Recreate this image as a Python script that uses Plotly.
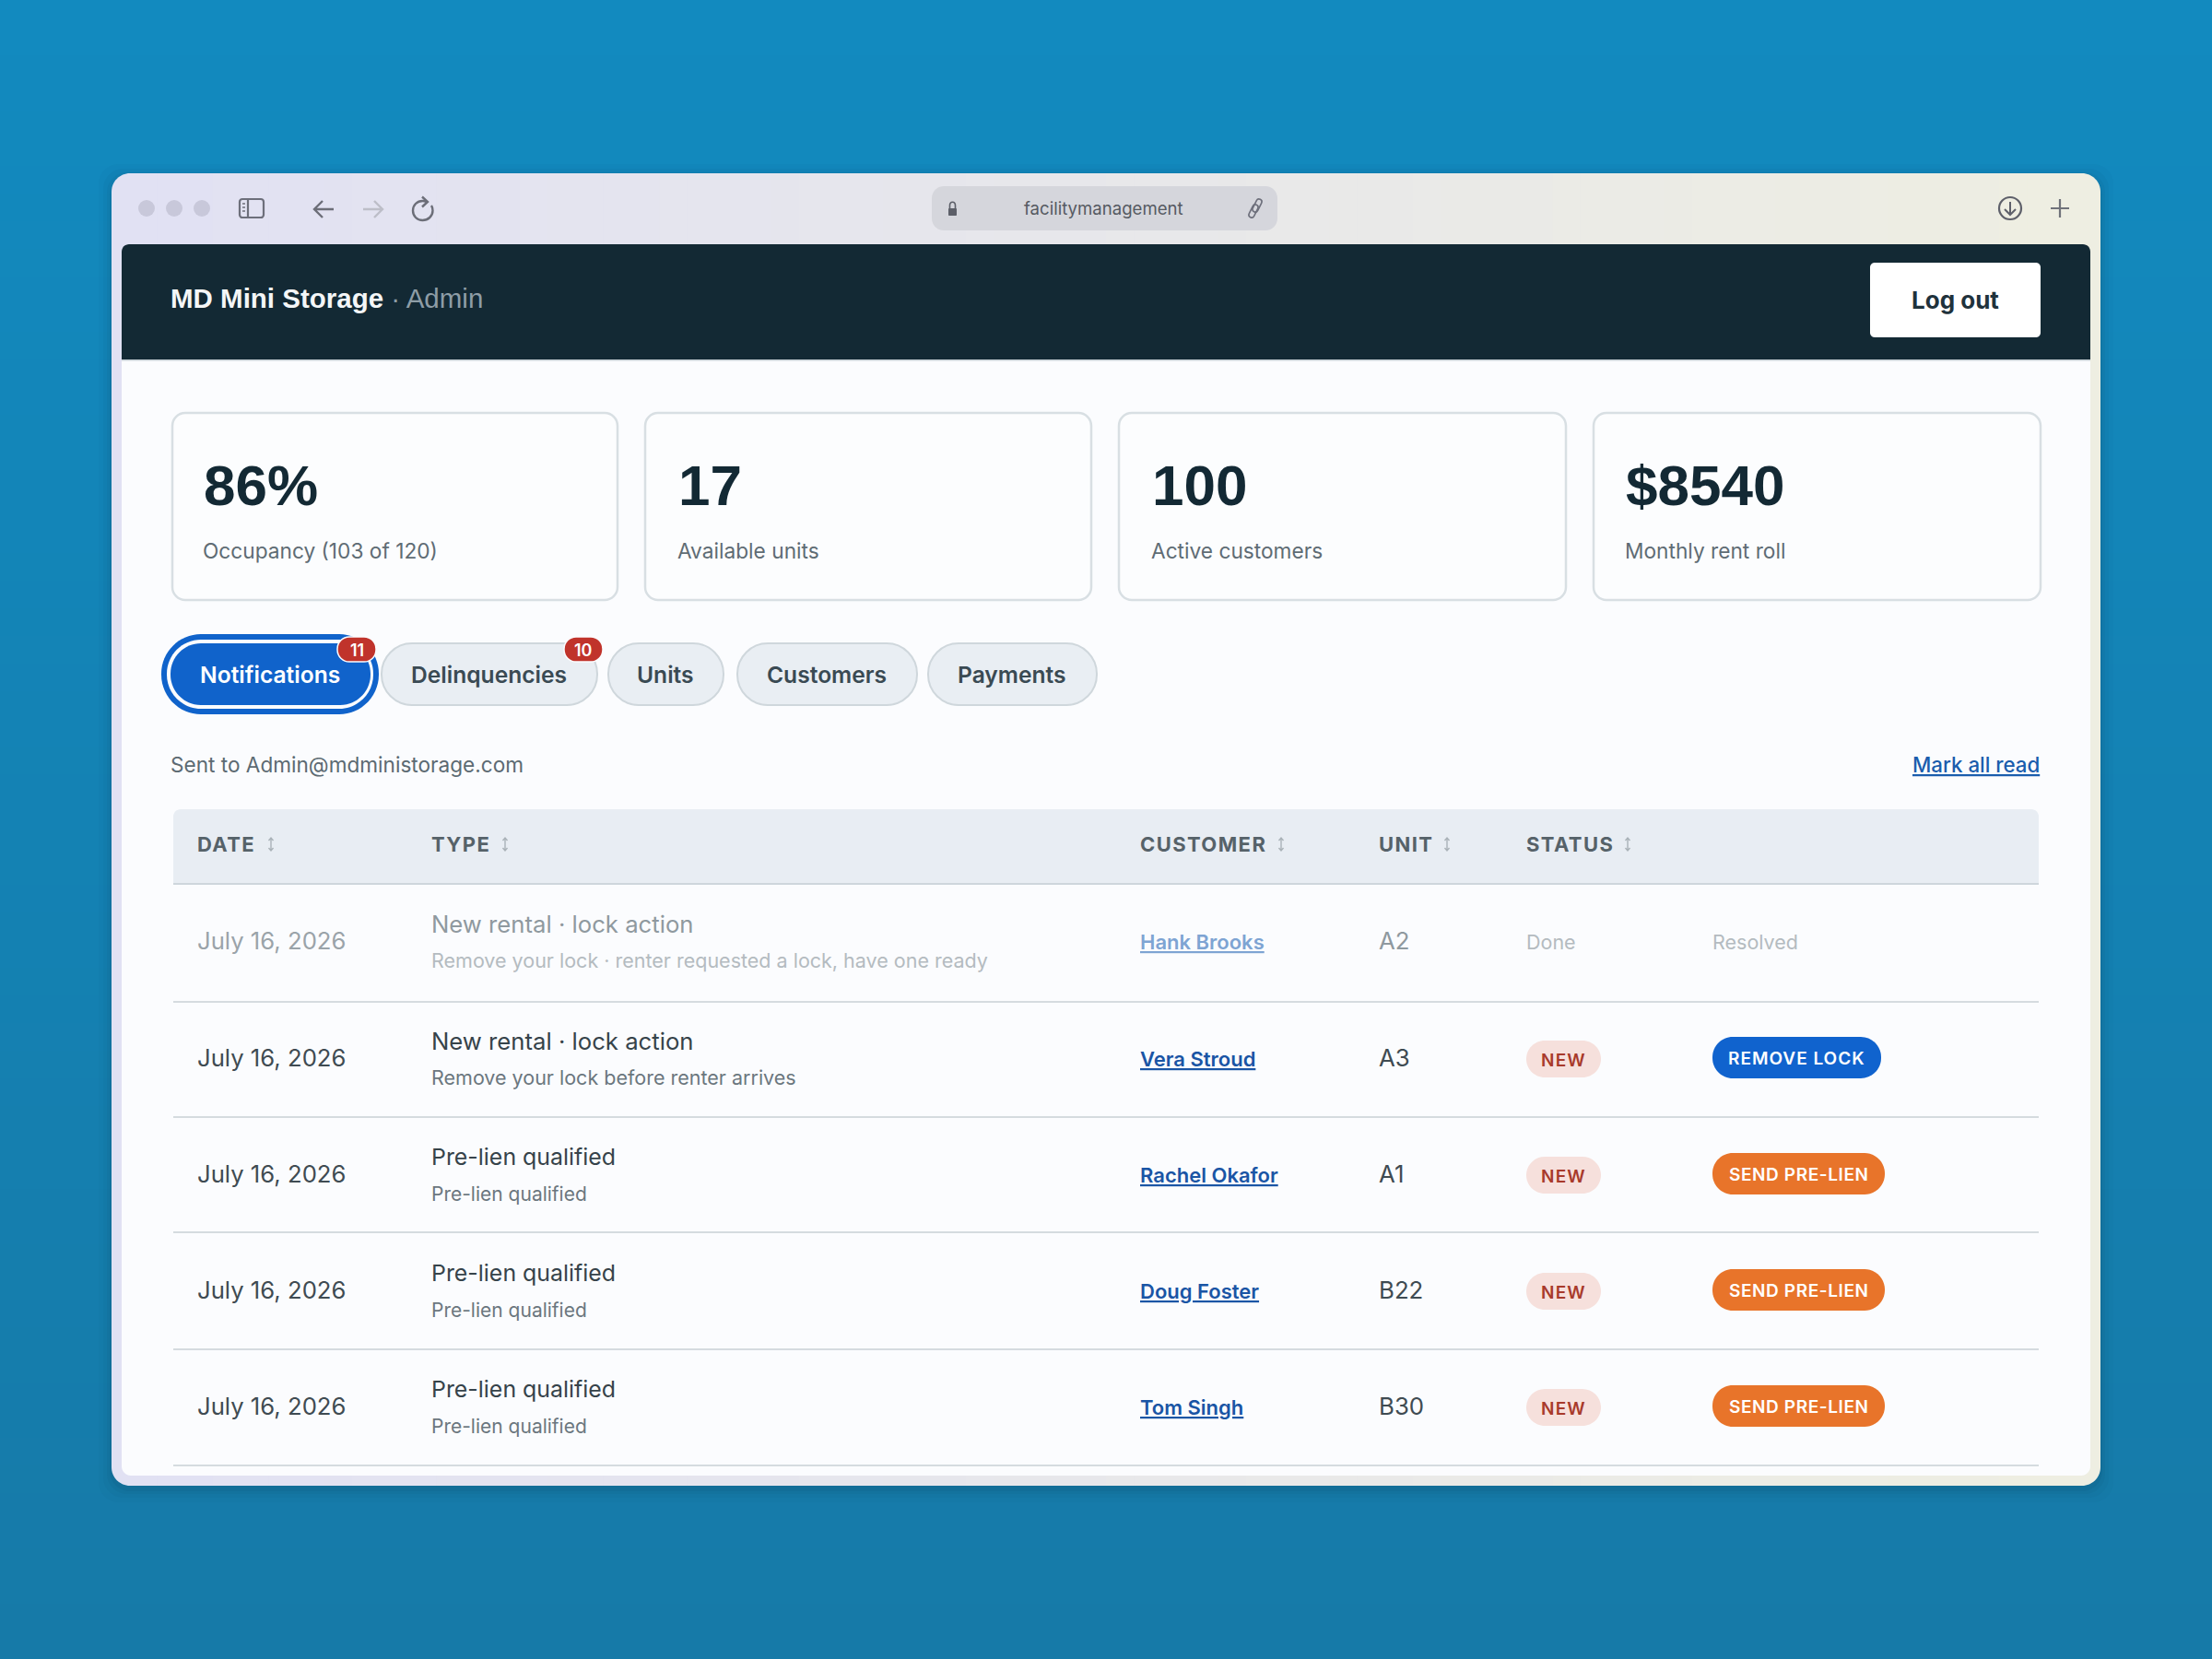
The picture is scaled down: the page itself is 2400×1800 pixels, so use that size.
import plotly.graph_objects as go

# ---- content ----
brand = "MD Mini Storage"
brand_role = " · Admin"
url_text = "facilitymanagement"
logout_label = "Log out"
kpi_values = ["86%", "17", "100", "$8540"]
kpi_labels = ["Occupancy (103 of 120)", "Available units", "Active customers", "Monthly rent roll"]
tab_labels = ["Notifications", "Delinquencies", "Units", "Customers", "Payments"]
tab_badges = ["11", "10", "", "", ""]
sent_to = "Sent to Admin@mdministorage.com"
mark_read = "Mark all read"
columns = ["DATE", "TYPE", "CUSTOMER", "UNIT", "STATUS"]
dates = ["July 16, 2026"] * 5
types = ["New rental · lock action", "New rental · lock action", "Pre-lien qualified", "Pre-lien qualified", "Pre-lien qualified"]
details = ["Remove your lock · renter requested a lock, have one ready", "Remove your lock before renter arrives",
           "Pre-lien qualified", "Pre-lien qualified", "Pre-lien qualified"]
customers = ["Hank Brooks", "Vera Stroud", "Rachel Okafor", "Doug Foster", "Tom Singh"]
units = ["A2", "A3", "A1", "B22", "B30"]
statuses = ["Done", "NEW", "NEW", "NEW", "NEW"]
actions = ["Resolved", "REMOVE LOCK", "SEND PRE-LIEN", "SEND PRE-LIEN", "SEND PRE-LIEN"]

# ---- geometry / style ----
BODY = "Inter"
HEAD = "Liberation Sans"
shapes, notes = [], []

def lerp(a, b, t):
    return "#%02x%02x%02x" % tuple(round(a[i] + (b[i] - a[i]) * t) for i in range(3))

def rpath(x0, y0, x1, y1, r):
    k = r * 0.45
    return (f"M{x0+r},{y0} L{x1-r},{y0} C{x1-k},{y0} {x1},{y0+k} {x1},{y0+r} L{x1},{y1-r} "
            f"C{x1},{y1-k} {x1-k},{y1} {x1-r},{y1} L{x0+r},{y1} C{x0+k},{y1} {x0},{y1-k} {x0},{y1-r} "
            f"L{x0},{y0+r} C{x0},{y0+k} {x0+k},{y0} {x0+r},{y0} Z")

def box(x0, y0, x1, y1, r=0, fill="#fff", line=None, lw=0):
    ln = dict(color=line, width=lw) if line else dict(width=0)
    if r:
        shapes.append(dict(type="path", path=rpath(x0, y0, x1, y1, r), fillcolor=fill, line=ln, layer="above"))
    else:
        shapes.append(dict(type="rect", x0=x0, y0=y0, x1=x1, y1=y1, fillcolor=fill, line=ln, layer="above"))

def stroke(path, color, w=2.4):
    shapes.append(dict(type="path", path=path, line=dict(color=color, width=w), fillcolor="rgba(0,0,0,0)", layer="above"))

def capsule(px, py, qx, qy, color, w=1.6):
    # small rounded link of the chain icon
    dx, dy = qx - px, qy - py
    d = (dx * dx + dy * dy) ** 0.5
    ux, uy = dx / d, dy / d
    nx, ny = -uy * 3, ux * 3
    e = 4
    stroke(f"M{px+nx},{py+ny} L{qx+nx},{qy+ny} C{qx+nx+ux*e},{qy+ny+uy*e} {qx-nx+ux*e},{qy-ny+uy*e} {qx-nx},{qy-ny} "
           f"L{px-nx},{py-ny} C{px-nx-ux*e},{py-ny-uy*e} {px+nx-ux*e},{py+ny-uy*e} {px+nx},{py+ny} Z", color, w)

def text(x, y, s, size, color, font=BODY, weight=400, anchor="left", under=False, spacing=0):
    f = dict(family=font, size=size, color=color, weight=weight)
    if under:
        f["lineposition"] = "under"
    if spacing:
        s = f"<span style='letter-spacing:{spacing}px'>{s}</span>"
    notes.append(dict(x=x, y=y, xref="x", yref="y", text=s, showarrow=False, xanchor=anchor, yanchor="middle",
                      font=f, borderpad=0, borderwidth=0))

# page background gradient
for i in range(60):
    y0 = i * 30
    box(0, y0, 2400, y0 + 31, fill=lerp((18, 138, 191), (22, 122, 168), i / 59))

# window shadow
for i, a in zip((14, 9, 5, 2), (0.03, 0.04, 0.05, 0.07)):
    box(121 - i, 188 - i + 4, 2279 + i, 1612 + i + 4, 22, fill=f"rgba(10,50,80,{a})")

# window chrome gradient
L, R = (225, 225, 243), (238, 238, 226)
box(121, 188, 170, 1612, 20, fill=lerp(L, R, 0))
box(2230, 188, 2279, 1612, 20, fill=lerp(L, R, 1))
N = 70
for i in range(N):
    x0 = 140 + i * (2120 / N)
    box(x0, 188, x0 + 2120 / N + 1, 1612, fill=lerp(L, R, i / (N - 1)))

# traffic dots
for cx in (159, 189, 219):
    shapes.append(dict(type="circle", x0=cx - 9, x1=cx + 9, y0=217, y1=235, fillcolor="#c8c8da", line=dict(width=0), layer="above"))
# sidebar icon
stroke(rpath(260, 216, 286, 236, 3), "#6d6f7b", 2.2)
stroke("M269,216 L269,236", "#6d6f7b", 2.2)
stroke("M263,221 L266,221 M263,225 L266,225 M263,229 L266,229", "#6d6f7b", 1.4)
# nav icons
stroke("M362,227 L341,227 M350,218 L341,227 L350,236", "#6c6e78")
stroke("M394,227 L415,227 M406,218 L415,227 L406,236", "#bdbec8")
stroke("M463,219 C461,218.3 460,218 458.5,218 C452.5,218 448,222.5 448,228.5 C448,234.5 452.5,239 458.5,239 "
       "C464.5,239 469.5,234.5 469.5,228.5 C469.5,226.5 469,224.5 468,223", "#6c6e78")
stroke("M458,213.5 L464,219 L458,224.5", "#6c6e78")
# url bar
box(1011, 202, 1386, 250, 13, fill="#d5d6dc")
box(1029, 226, 1038, 234, 1, fill="#5c5f68")
stroke("M1030.5,226 L1030.5,223 C1030.5,218 1036.5,218 1036.5,223 L1036.5,226", "#5c5f68", 1.6)
text(1197, 226, url_text, 18.6, "#565a62", anchor="center")
capsule(1358, 233, 1362, 225, "#6d6f7b")
capsule(1362, 227, 1366, 219, "#6d6f7b")
# right icons
shapes.append(dict(type="circle", x0=2169, x1=2193, y0=214, y1=238, line=dict(color="#5e606a", width=2.2), fillcolor="rgba(0,0,0,0)", layer="above"))
stroke("M2181,219 L2181,232 M2175,227 L2181,233 L2187,227", "#5e606a", 2)
stroke("M2225,226 L2245,226 M2235,216 L2235,236", "#70727a", 2.2)

# inner panel
box(132, 265, 2268, 1601, 10, fill="#fbfcfe")
box(132, 265, 2268, 300, 8, fill="#132934")
box(132, 285, 2268, 390, fill="#132934")
box(132, 390, 2268, 391.5, fill="#c5ced3")

# header
text(185, 323.5, f"<b>{brand}</b><span style='color:#8e9da6;font-weight:400'>{brand_role}</span>", 29.5, "#f4f6f7", font=HEAD)
box(2029, 285, 2214, 366, 5, fill="#ffffff")
text(2121, 325, logout_label, 26, "#1f323c", weight=700, anchor="center")

# KPI cards
card_x = [(187, 670), (700, 1184), (1214, 1699), (1729, 2214)]
val_x = [221, 736, 1250, 1764]
for (a, b), vx, v, lab in zip(card_x, val_x, kpi_values, kpi_labels):
    box(a, 448, b, 651, 14, fill="#fcfdfe", line="#d8dfe3", lw=2.5)
    text(vx, 526, v, 62, "#132934", font=HEAD, weight=700)
    text(vx - 1, 597.5, lab, 22.7, "#5f6c74")

# tabs
tab_x = [(185, 402), (414, 648), (660, 785), (800, 995), (1007, 1190)]
box(175, 688, 411, 775, 43, fill="#1063cb")
box(181, 694, 405, 769, 37, fill="#fbfcfe")
for i, ((a, b), lab, bd) in enumerate(zip(tab_x, tab_labels, tab_badges)):
    if i == 0:
        box(a, 698, b, 765, 33, fill="#1063cb")
    else:
        box(a, 698, b, 765, 33, fill="#e9eef3", line="#cfd7dc", lw=2)
    text((a + b) / 2 - 1, 732, lab, 24.6, "#ffffff" if i == 0 else "#3a4a53", weight=600, anchor="center")
    if bd:
        bx = b - 15
        box(bx - 21, 691, bx + 21, 718, 13, fill="#c0332b", line="#fbfcfe", lw=1.5)
        text(bx, 705, bd, 18, "#ffffff", weight=600, anchor="center")

# note line
text(185, 829, sent_to, 22.6, "#5c6a72")
text(2213, 829, mark_read, 22.3, "#1a5dad", weight=500, anchor="right", under=True)

# table header
box(188, 878, 2212, 950, 8, fill="#e8edf3")
box(188, 900, 2212, 958, fill="#e8edf3")
box(188, 958, 2212, 960, fill="#ced6dc")
col_x = [214, 468, 1237, 1496, 1656]
sort_x = [294, 548, 1390, 1570, 1766]
for cx, sx, c in zip(col_x, sort_x, columns):
    text(cx, 916, c, 22, "#566269", weight=700, spacing=1.4)
    stroke(f"M{sx},910 L{sx},923 M{sx-2.5},912 L{sx},909 L{sx+2.5},912 M{sx-2.5},920 L{sx},923 L{sx+2.5},920", "#aab2b8", 1.4)

# rows
row_y = [1021, 1148, 1274, 1400, 1526]
line_y = [1086, 1211, 1336, 1463, 1589]
for y in line_y:
    box(188, y, 2212, y + 2, fill="#d5dbdf")
for i, y in enumerate(row_y):
    done = statuses[i] == "Done"
    long_text = details[i] != types[i]
    text(214, y - 1, dates[i], 25.7, "#9aa3a9" if done else "#3f4b52")
    text(468, y - 19, types[i], 25.7 if long_text else 24.9, "#8f999f" if done else "#36434a")
    text(468, y + 21, details[i], 21.5 if long_text else 21, "#b4bbc0" if done else "#6b777e")
    text(1237, y + 1, customers[i], 22, "#7ea4d3" if done else "#1a55a5", weight=600, under=True)
    text(1495.5, y - 1, units[i], 25.8, "#8f999f" if done else "#3f4b52")
    if done:
        text(1656, y + 1, statuses[i], 21.5, "#b4bbc0")
        text(1858, y + 1, actions[i], 21.5, "#b4bbc0")
    else:
        box(1656, y - 19, 1737, y + 21, 20, fill="#f6e0dc")
        text(1696.5, y + 2, statuses[i], 19, "#a83a2b", weight=600, anchor="center", spacing=1.2)
        orange = actions[i].startswith("SEND")
        x1 = 2045 if orange else 2041
        box(1858, y - 23, x1, y + 22, 22, fill="#e8742a" if orange else "#1063ce")
        text((1858 + x1) / 2, y, actions[i], 19, "#ffffff", weight=600, anchor="center", spacing=0.6 if orange else 1.0)

fig = go.Figure()
fig.update_layout(
    width=2400, height=1800, margin=dict(l=0, r=0, t=0, b=0), autosize=False,
    paper_bgcolor="#138bc2", plot_bgcolor="rgba(0,0,0,0)", showlegend=False,
    xaxis=dict(range=[0, 2400], visible=False, fixedrange=True),
    yaxis=dict(range=[1800, 0], visible=False, fixedrange=True),
    shapes=shapes, annotations=notes,
)
fig.write_html("out.html", config=dict(displayModeBar=False),
               post_script="document.body.style.margin='0';")
